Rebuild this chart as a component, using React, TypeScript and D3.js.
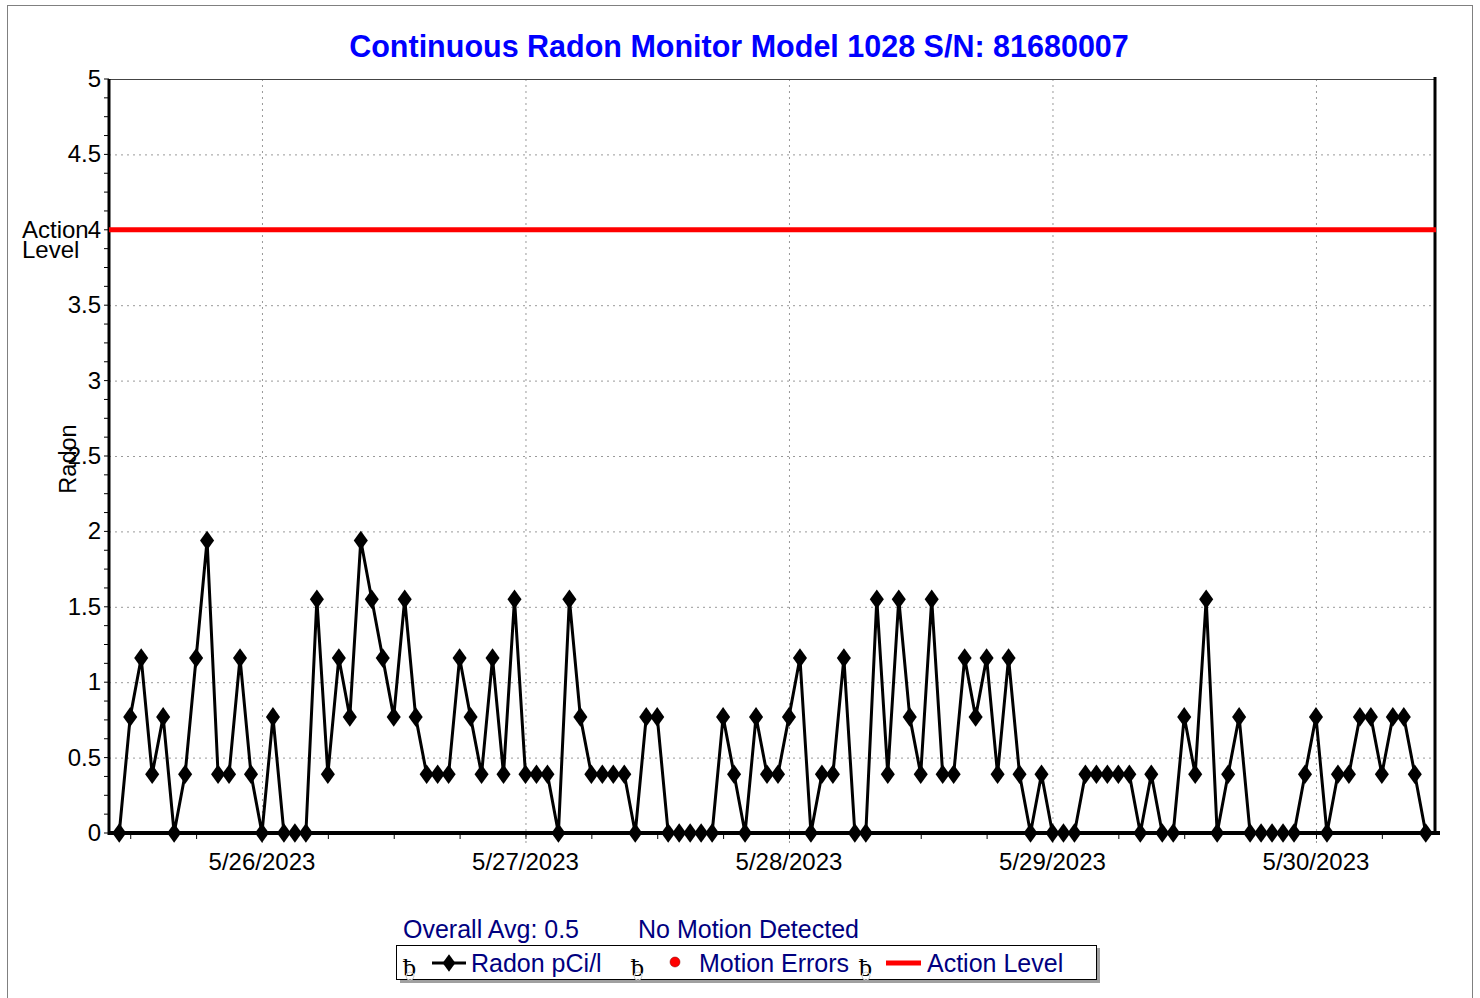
import React from 'react';
import * as d3 from 'd3';

// hourly readings, pCi/l, starting 5/25/2023 11:00
const startTime = new Date(2023, 4, 25, 11, 0);
const radonValues: number[] = [
  0, 0.77, 1.16, 0.39, 0.77, 0, 0.39, 1.16, 1.94, 0.39,
  0.39, 1.16, 0.39, 0, 0.77, 0, 0, 0, 1.55, 0.39,
  1.16, 0.77, 1.94, 1.55, 1.16, 0.77, 1.55, 0.77, 0.39, 0.39,
  0.39, 1.16, 0.77, 0.39, 1.16, 0.39, 1.55, 0.39, 0.39, 0.39,
  0, 1.55, 0.77, 0.39, 0.39, 0.39, 0.39, 0, 0.77, 0.77,
  0, 0, 0, 0, 0, 0.77, 0.39, 0, 0.77, 0.39,
  0.39, 0.77, 1.16, 0, 0.39, 0.39, 1.16, 0, 0, 1.55,
  0.39, 1.55, 0.77, 0.39, 1.55, 0.39, 0.39, 1.16, 0.77, 1.16,
  0.39, 1.16, 0.39, 0, 0.39, 0, 0, 0, 0.39, 0.39,
  0.39, 0.39, 0.39, 0, 0.39, 0, 0, 0.77, 0.39, 1.55,
  0, 0.39, 0.77, 0, 0, 0, 0, 0, 0.39, 0.77,
  0, 0.39, 0.39, 0.77, 0.77, 0.39, 0.77, 0.77, 0.39, 0
];
const yTickValues = [0, 0.5, 1, 1.5, 2, 2.5, 3, 3.5, 4, 4.5, 5];
const yTickLabels = ['0', '0.5', '1', '1.5', '2', '2.5', '3', '3.5', '4', '4.5', '5'];
const dayTicks = [
  new Date(2023, 4, 26), new Date(2023, 4, 27), new Date(2023, 4, 28),
  new Date(2023, 4, 29), new Date(2023, 4, 30)
];
const dayLabels = ['5/26/2023', '5/27/2023', '5/28/2023', '5/29/2023', '5/30/2023'];
const actionLevel = 4;
const overallAvg = '0.5';

const FONT = '"Liberation Sans", Arial, sans-serif';
const NAVY = '#000080';

const App: React.FC = () => {
  const svgRef = React.useRef<SVGSVGElement>(null);
  const width = 1480;
  const height = 998;

  React.useEffect(() => {
    if (!svgRef.current) return;
    const svg = d3.select(svgRef.current);
    svg.selectAll('*').remove();

    const data = radonValues.map((v, i) => ({
      t: d3.timeHour.offset(startTime, i),
      v
    }));

    const left = 109, right = 1434, top = 79, bottom = 833;

    const x = d3.scaleTime()
      .domain([
        d3.timeMinute.offset(startTime, -56),
        d3.timeMinute.offset(data[data.length - 1].t, 45)
      ])
      .range([left, right]);
    const y = d3.scaleLinear().domain([0, 5]).range([bottom, top]);

    // outer frame
    svg.append('rect')
      .attr('x', 7.5).attr('y', 5.5)
      .attr('width', 1465).attr('height', 1010)
      .attr('fill', 'none').attr('stroke', '#808080').attr('stroke-width', 1);

    // title
    svg.append('text')
      .attr('x', 739).attr('y', 57)
      .attr('text-anchor', 'middle')
      .attr('font-family', FONT).attr('font-size', 30.5).attr('font-weight', 'bold')
      .attr('fill', '#0000ff')
      .text('Continuous Radon Monitor Model 1028 S/N: 81680007');

    // horizontal grid
    svg.append('g').selectAll('line')
      .data(yTickValues.filter(d => d > 0 && d < 5))
      .enter().append('line')
      .attr('x1', left).attr('x2', right)
      .attr('y1', d => y(d) + 0.5).attr('y2', d => y(d) + 0.5)
      .attr('stroke', '#999').attr('stroke-width', 1).attr('stroke-dasharray', '2,4');

    // vertical day grid
    svg.append('g').selectAll('line')
      .data(dayTicks)
      .enter().append('line')
      .attr('x1', d => x(d) + 0.5).attr('x2', d => x(d) + 0.5)
      .attr('y1', top).attr('y2', bottom + 10)
      .attr('stroke', '#999').attr('stroke-width', 1).attr('stroke-dasharray', '2,4');

    // top border
    svg.append('line')
      .attr('x1', left).attr('x2', right).attr('y1', top + 0.5).attr('y2', top + 0.5)
      .attr('stroke', '#444').attr('stroke-width', 1);

    // y axis
    const yAxis = svg.append('g').attr('transform', `translate(${left},0)`);
    yAxis.append('line').attr('x1', 0).attr('x2', 0).attr('y1', top).attr('y2', bottom + 2)
      .attr('stroke', '#000').attr('stroke-width', 3);
    yAxis.selectAll('.minor')
      .data(d3.range(0, 41).map(i => i * 0.125))
      .enter().append('line')
      .attr('x1', -5).attr('x2', 0)
      .attr('y1', d => y(d)).attr('y2', d => y(d))
      .attr('stroke', '#000').attr('stroke-width', 1);
    yAxis.selectAll('.lbl')
      .data(yTickValues)
      .enter().append('text')
      .attr('x', -8).attr('y', d => y(d) + 8)
      .attr('text-anchor', 'end')
      .attr('font-family', FONT).attr('font-size', 24).attr('fill', '#000')
      .text((d, i) => yTickLabels[i]);

    // right axis
    svg.append('line').attr('x1', right + 1).attr('x2', right + 1).attr('y1', top - 2).attr('y2', bottom + 2)
      .attr('stroke', '#000').attr('stroke-width', 3);

    // x axis
    const xAxis = svg.append('g').attr('transform', `translate(0,${bottom})`);
    xAxis.selectAll('.minor')
      .data(d3.timeHour.every(6)!.range(x.domain()[0], x.domain()[1]))
      .enter().append('line')
      .attr('x1', d => x(d) + 0.5).attr('x2', d => x(d) + 0.5)
      .attr('y1', 0).attr('y2', 6)
      .attr('stroke', '#000').attr('stroke-width', 1);
    xAxis.selectAll('.lbl')
      .data(dayTicks)
      .enter().append('text')
      .attr('x', d => x(d)).attr('y', 37)
      .attr('text-anchor', 'middle')
      .attr('font-family', FONT).attr('font-size', 24).attr('fill', '#000')
      .text((d, i) => dayLabels[i]);

    // action level
    svg.append('line')
      .attr('x1', left).attr('x2', right + 2)
      .attr('y1', y(actionLevel)).attr('y2', y(actionLevel))
      .attr('stroke', '#ff0000').attr('stroke-width', 5);
    svg.append('text')
      .attr('x', 22).attr('y', 238)
      .attr('font-family', FONT).attr('font-size', 24).attr('fill', '#000')
      .text('Action');
    svg.append('text')
      .attr('x', 22).attr('y', 258)
      .attr('font-family', FONT).attr('font-size', 24).attr('fill', '#000')
      .text('Level');

    // y axis title
    svg.append('text')
      .attr('transform', `translate(76,459) rotate(-90)`)
      .attr('text-anchor', 'middle')
      .attr('font-family', FONT).attr('font-size', 23.5).attr('fill', '#000')
      .text('Radon');

    // series
    const line = d3.line<{ t: Date; v: number }>()
      .x(d => x(d.t)).y(d => y(d.v));
    svg.append('path')
      .datum(data)
      .attr('d', line)
      .attr('fill', 'none').attr('stroke', '#000').attr('stroke-width', 3)
      .attr('stroke-linejoin', 'round');

    const diamond = d3.symbol().type(d3.symbolDiamond).size(110);
    svg.append('g').selectAll('path')
      .data(data)
      .enter().append('path')
      .attr('transform', d => `translate(${x(d.t)},${y(d.v)}) scale(1.25,1)`)
      .attr('d', diamond)
      .attr('fill', '#000');

    // bottom axis line
    svg.append('line').attr('x1', left - 1).attr('x2', right + 6)
      .attr('y1', bottom).attr('y2', bottom)
      .attr('stroke', '#000').attr('stroke-width', 4);

    // summary texts
    svg.append('text').attr('x', 403).attr('y', 938)
      .attr('font-family', FONT).attr('font-size', 25).attr('fill', NAVY)
      .text(`Overall Avg: ${overallAvg}`);
    svg.append('text').attr('x', 638).attr('y', 938)
      .attr('font-family', FONT).attr('font-size', 25).attr('fill', NAVY)
      .text('No Motion Detected');

    // legend
    const lg = svg.append('g');
    lg.append('rect').attr('x', 400).attr('y', 948).attr('width', 700).attr('height', 35)
      .attr('fill', '#a0a0a0');
    lg.append('rect').attr('x', 396.5).attr('y', 945.5).attr('width', 700).attr('height', 34)
      .attr('fill', '#fff').attr('stroke', '#000').attr('stroke-width', 1);

    const check = (cx: number) => {
      lg.append('text').attr('x', cx).attr('y', 976)
        .attr('font-family', '"Liberation Serif", "DejaVu Serif", serif').attr('font-size', 26).attr('fill', '#000')
        .text('ƀ');
      lg.append('circle').attr('cx', cx + 7).attr('cy', 976).attr('r', 4)
        .attr('fill', 'none').attr('stroke', '#ccc').attr('stroke-width', 1);
    };
    check(403);
    lg.append('line').attr('x1', 432).attr('x2', 466).attr('y1', 963).attr('y2', 963)
      .attr('stroke', '#000').attr('stroke-width', 3);
    lg.append('path').attr('transform', 'translate(449,963) scale(1.25,1)')
      .attr('d', d3.symbol().type(d3.symbolDiamond).size(90)()).attr('fill', '#000');
    lg.append('text').attr('x', 471).attr('y', 972)
      .attr('font-family', FONT).attr('font-size', 25).attr('fill', NAVY).text('Radon pCi/l');

    check(631);
    lg.append('circle').attr('cx', 675).attr('cy', 962).attr('r', 5)
      .attr('fill', '#ff0000').attr('stroke', '#800000').attr('stroke-width', 0.5);
    lg.append('text').attr('x', 699).attr('y', 972)
      .attr('font-family', FONT).attr('font-size', 25).attr('fill', NAVY).text('Motion Errors');

    check(859);
    lg.append('line').attr('x1', 886).attr('x2', 921).attr('y1', 963).attr('y2', 963)
      .attr('stroke', '#ff0000').attr('stroke-width', 5);
    lg.append('text').attr('x', 927).attr('y', 972)
      .attr('font-family', FONT).attr('font-size', 25).attr('fill', NAVY).text('Action Level');
  }, []);

  return (
    <svg
      ref={svgRef}
      width={width}
      height={height}
      style={{ position: 'absolute', left: 0, top: 0, background: '#fff' }}
    />
  );
};

export default App;
